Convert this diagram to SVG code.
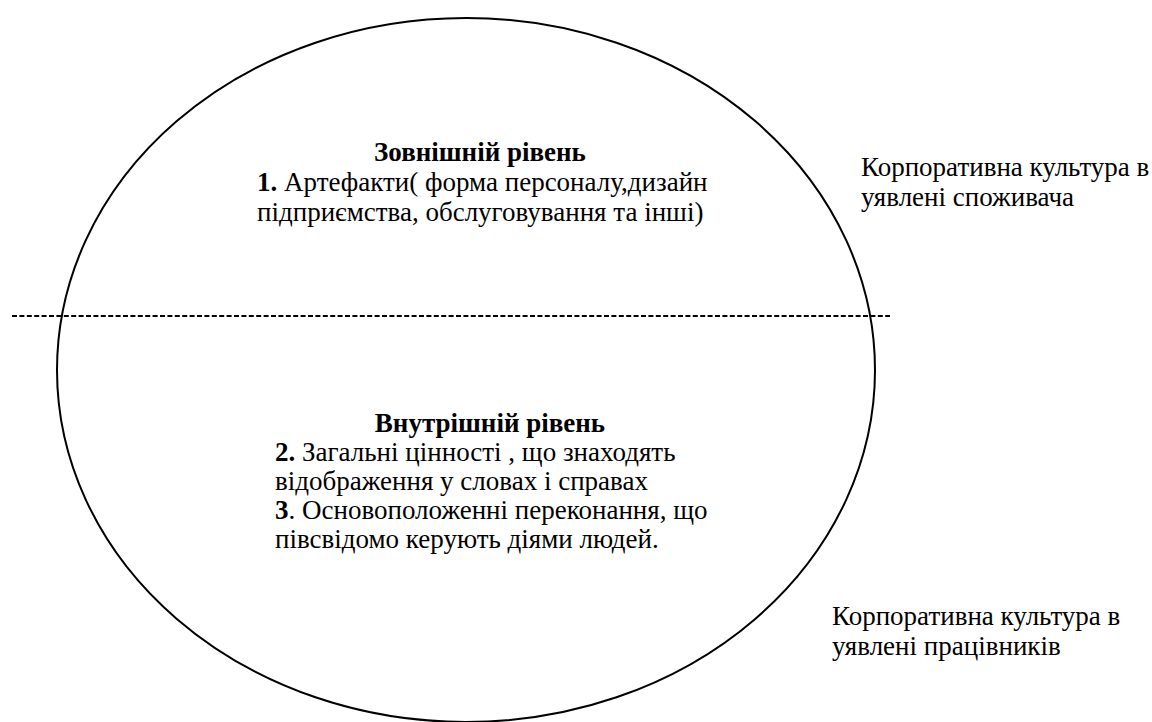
<svg xmlns="http://www.w3.org/2000/svg" width="1152" height="722" viewBox="0 0 1152 722">
<style>
  .t { font-family: Liberation Serif, serif; font-size: 27px; fill: #000; }
  .b { font-weight: bold; }
  .c { text-anchor: middle; }
  .outline { fill: none; stroke: #000; stroke-width: 2; }
  .divider { fill: none; stroke: #000; stroke-width: 2; stroke-dasharray: 5 2.4; }
</style>
<rect width="1152" height="722" fill="#fff"/>
<g id="culture-ellipse">
  <ellipse class="outline" cx="466" cy="370" rx="409" ry="352"/>
</g>
<g id="connectors">
  <line class="divider" x1="12" y1="316" x2="890" y2="316"/>
</g>
<g id="outer-level" class="t">
  <text class="b c" x="480" y="161">Зовнішній рівень</text>
  <text x="257" y="191"><tspan class="b">1.</tspan> Артефакти( форма персоналу,дизайн</text>
  <text x="257" y="221">підприємства, обслуговування та інші)</text>
</g>
<g id="inner-level" class="t">
  <text class="b c" x="490" y="432">Внутрішній рівень</text>
  <text x="275" y="461"><tspan class="b">2.</tspan> Загальні цінності , що знаходять</text>
  <text x="275" y="490">відображення у словах і справах</text>
  <text x="275" y="519"><tspan class="b">3</tspan>. Основоположенні переконання, що</text>
  <text x="275" y="548">півсвідомо керують діями людей.</text>
</g>
<g id="consumer-view" class="t">
  <text x="861" y="176">Корпоративна культура в</text>
  <text x="861" y="206">уявлені споживача</text>
</g>
<g id="employee-view" class="t">
  <text x="832" y="625">Корпоративна культура в</text>
  <text x="832" y="655">уявлені працівників</text>
</g>
</svg>
